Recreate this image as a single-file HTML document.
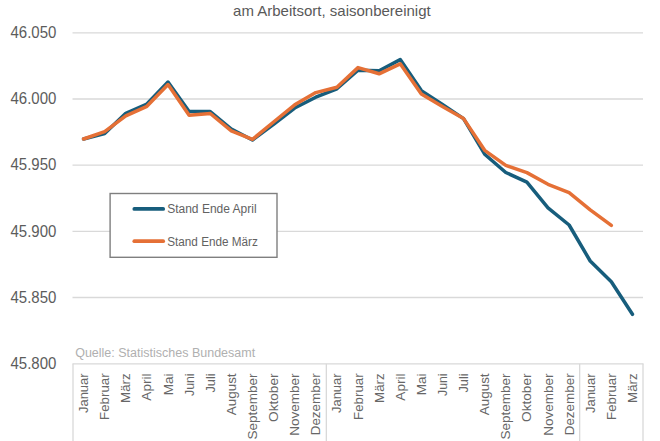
<!DOCTYPE html>
<html><head><meta charset="utf-8"><style>
html,body{margin:0;padding:0;background:#fff;}
body{width:660px;height:441px;overflow:hidden;}
svg{display:block;}
text{font-family:"Liberation Sans",sans-serif;fill:#595959;}
.yl{font-size:15px;fill:#5c5c5c;}
.tt{font-size:15px;}
.ml{font-size:13px;fill:#676767;}
.lg{font-size:12px;fill:#626262;}
.ql{font-size:12.5px;fill:#b0b0b0;}
</style></head><body>
<svg width="660" height="441" viewBox="0 0 660 441">
<line x1="72.5" y1="32.8" x2="643.0" y2="32.8" stroke="#d9d9d9" stroke-width="1.3"/>
<line x1="72.5" y1="99.0" x2="643.0" y2="99.0" stroke="#d9d9d9" stroke-width="1.3"/>
<line x1="72.5" y1="165.2" x2="643.0" y2="165.2" stroke="#d9d9d9" stroke-width="1.3"/>
<line x1="72.5" y1="231.3" x2="643.0" y2="231.3" stroke="#d9d9d9" stroke-width="1.3"/>
<line x1="72.5" y1="297.5" x2="643.0" y2="297.5" stroke="#d9d9d9" stroke-width="1.3"/>
<line x1="72.5" y1="363.9" x2="643.5" y2="363.9" stroke="#d9d9d9" stroke-width="1.3"/>
<line x1="73.00" y1="363.7" x2="73.00" y2="441" stroke="#d9d9d9" stroke-width="1.3"/>
<line x1="326.33" y1="363.7" x2="326.33" y2="441" stroke="#d9d9d9" stroke-width="1.3"/>
<line x1="579.67" y1="363.7" x2="579.67" y2="441" stroke="#d9d9d9" stroke-width="1.3"/>
<line x1="643.00" y1="363.7" x2="643.00" y2="441" stroke="#d9d9d9" stroke-width="1.3"/>
<text transform="translate(56.3,38.30) scale(1,1.05)" text-anchor="end" class="yl">46.050</text>
<text transform="translate(56.3,104.20) scale(1,1.05)" text-anchor="end" class="yl">46.000</text>
<text transform="translate(56.3,170.30) scale(1,1.05)" text-anchor="end" class="yl">45.950</text>
<text transform="translate(56.3,236.60) scale(1,1.05)" text-anchor="end" class="yl">45.900</text>
<text transform="translate(56.3,303.30) scale(1,1.05)" text-anchor="end" class="yl">45.850</text>
<text transform="translate(56.3,369.40) scale(1,1.05)" text-anchor="end" class="yl">45.800</text>
<text transform="translate(88.16,373.4) rotate(-90)" text-anchor="end" class="ml" textLength="39.7" lengthAdjust="spacingAndGlyphs">Januar</text>
<text transform="translate(109.27,373.4) rotate(-90)" text-anchor="end" class="ml" textLength="46.5" lengthAdjust="spacingAndGlyphs">Februar</text>
<text transform="translate(130.38,373.4) rotate(-90)" text-anchor="end" class="ml" textLength="29.5" lengthAdjust="spacingAndGlyphs">März</text>
<text transform="translate(151.49,373.4) rotate(-90)" text-anchor="end" class="ml" textLength="27.3" lengthAdjust="spacingAndGlyphs">April</text>
<text transform="translate(172.60,373.4) rotate(-90)" text-anchor="end" class="ml" textLength="21.9" lengthAdjust="spacingAndGlyphs">Mai</text>
<text transform="translate(193.71,373.4) rotate(-90)" text-anchor="end" class="ml" textLength="22.5" lengthAdjust="spacingAndGlyphs">Juni</text>
<text transform="translate(214.82,373.4) rotate(-90)" text-anchor="end" class="ml" textLength="19.1" lengthAdjust="spacingAndGlyphs">Juli</text>
<text transform="translate(235.93,373.4) rotate(-90)" text-anchor="end" class="ml" textLength="41.9" lengthAdjust="spacingAndGlyphs">August</text>
<text transform="translate(257.04,373.4) rotate(-90)" text-anchor="end" class="ml" textLength="66" lengthAdjust="spacingAndGlyphs">September</text>
<text transform="translate(278.16,373.4) rotate(-90)" text-anchor="end" class="ml" textLength="48.6" lengthAdjust="spacingAndGlyphs">Oktober</text>
<text transform="translate(299.27,373.4) rotate(-90)" text-anchor="end" class="ml" textLength="62.3" lengthAdjust="spacingAndGlyphs">November</text>
<text transform="translate(320.38,373.4) rotate(-90)" text-anchor="end" class="ml" textLength="61.9" lengthAdjust="spacingAndGlyphs">Dezember</text>
<text transform="translate(341.49,373.4) rotate(-90)" text-anchor="end" class="ml" textLength="39.7" lengthAdjust="spacingAndGlyphs">Januar</text>
<text transform="translate(362.60,373.4) rotate(-90)" text-anchor="end" class="ml" textLength="46.5" lengthAdjust="spacingAndGlyphs">Februar</text>
<text transform="translate(383.71,373.4) rotate(-90)" text-anchor="end" class="ml" textLength="29.5" lengthAdjust="spacingAndGlyphs">März</text>
<text transform="translate(404.82,373.4) rotate(-90)" text-anchor="end" class="ml" textLength="27.3" lengthAdjust="spacingAndGlyphs">April</text>
<text transform="translate(425.93,373.4) rotate(-90)" text-anchor="end" class="ml" textLength="21.9" lengthAdjust="spacingAndGlyphs">Mai</text>
<text transform="translate(447.04,373.4) rotate(-90)" text-anchor="end" class="ml" textLength="22.5" lengthAdjust="spacingAndGlyphs">Juni</text>
<text transform="translate(468.16,373.4) rotate(-90)" text-anchor="end" class="ml" textLength="19.1" lengthAdjust="spacingAndGlyphs">Juli</text>
<text transform="translate(489.27,373.4) rotate(-90)" text-anchor="end" class="ml" textLength="41.9" lengthAdjust="spacingAndGlyphs">August</text>
<text transform="translate(510.38,373.4) rotate(-90)" text-anchor="end" class="ml" textLength="66" lengthAdjust="spacingAndGlyphs">September</text>
<text transform="translate(531.49,373.4) rotate(-90)" text-anchor="end" class="ml" textLength="48.6" lengthAdjust="spacingAndGlyphs">Oktober</text>
<text transform="translate(552.60,373.4) rotate(-90)" text-anchor="end" class="ml" textLength="62.3" lengthAdjust="spacingAndGlyphs">November</text>
<text transform="translate(573.71,373.4) rotate(-90)" text-anchor="end" class="ml" textLength="61.9" lengthAdjust="spacingAndGlyphs">Dezember</text>
<text transform="translate(594.82,373.4) rotate(-90)" text-anchor="end" class="ml" textLength="39.7" lengthAdjust="spacingAndGlyphs">Januar</text>
<text transform="translate(615.93,373.4) rotate(-90)" text-anchor="end" class="ml" textLength="46.5" lengthAdjust="spacingAndGlyphs">Februar</text>
<text transform="translate(637.04,373.4) rotate(-90)" text-anchor="end" class="ml" textLength="29.5" lengthAdjust="spacingAndGlyphs">März</text>
<text x="331.9" y="15.8" text-anchor="middle" class="tt">am Arbeitsort, saisonbereinigt</text>
<text x="75.2" y="357.3" class="ql">Quelle: Statistisches Bundesamt</text>
<polyline points="83.56,139.00 104.67,133.50 125.78,113.30 146.89,104.00 168.00,82.00 189.11,111.60 210.22,111.60 231.33,129.00 252.44,140.00 273.56,124.40 294.67,108.00 315.78,97.20 336.89,88.80 358.00,70.20 379.11,70.80 400.22,59.60 421.33,90.60 442.44,104.50 463.56,118.60 484.67,154.20 505.78,172.50 526.89,182.20 548.00,207.80 569.11,225.00 590.22,261.00 611.33,281.80 632.44,314.30" fill="none" stroke="#175d7c" stroke-width="3.5" stroke-linejoin="round" stroke-linecap="round"/>
<polyline points="83.56,139.00 104.67,131.60 125.78,115.80 146.89,106.30 168.00,84.50 189.11,115.20 210.22,113.50 231.33,130.80 252.44,139.40 273.56,122.00 294.67,104.80 315.78,92.60 336.89,87.20 358.00,67.60 379.11,73.80 400.22,63.80 421.33,94.00 442.44,106.50 463.56,118.60 484.67,150.30 505.78,165.40 526.89,172.60 548.00,184.30 569.11,192.70 590.22,209.80 611.33,225.40" fill="none" stroke="#e57036" stroke-width="3.5" stroke-linejoin="round" stroke-linecap="round"/>
<rect x="110.1" y="193.5" width="166.9" height="63.8" fill="#fff" stroke="#7f7f7f" stroke-width="1.4"/>
<line x1="134.3" y1="208.9" x2="163.2" y2="208.9" stroke="#175d7c" stroke-width="3.7" stroke-linecap="round"/>
<line x1="134.3" y1="241.2" x2="163.2" y2="241.2" stroke="#e57036" stroke-width="3.7" stroke-linecap="round"/>
<text x="167.2" y="212.8" class="lg">Stand Ende April</text>
<text x="167.2" y="245.7" class="lg" textLength="90.7" lengthAdjust="spacingAndGlyphs">Stand Ende März</text>
</svg>
</body></html>
